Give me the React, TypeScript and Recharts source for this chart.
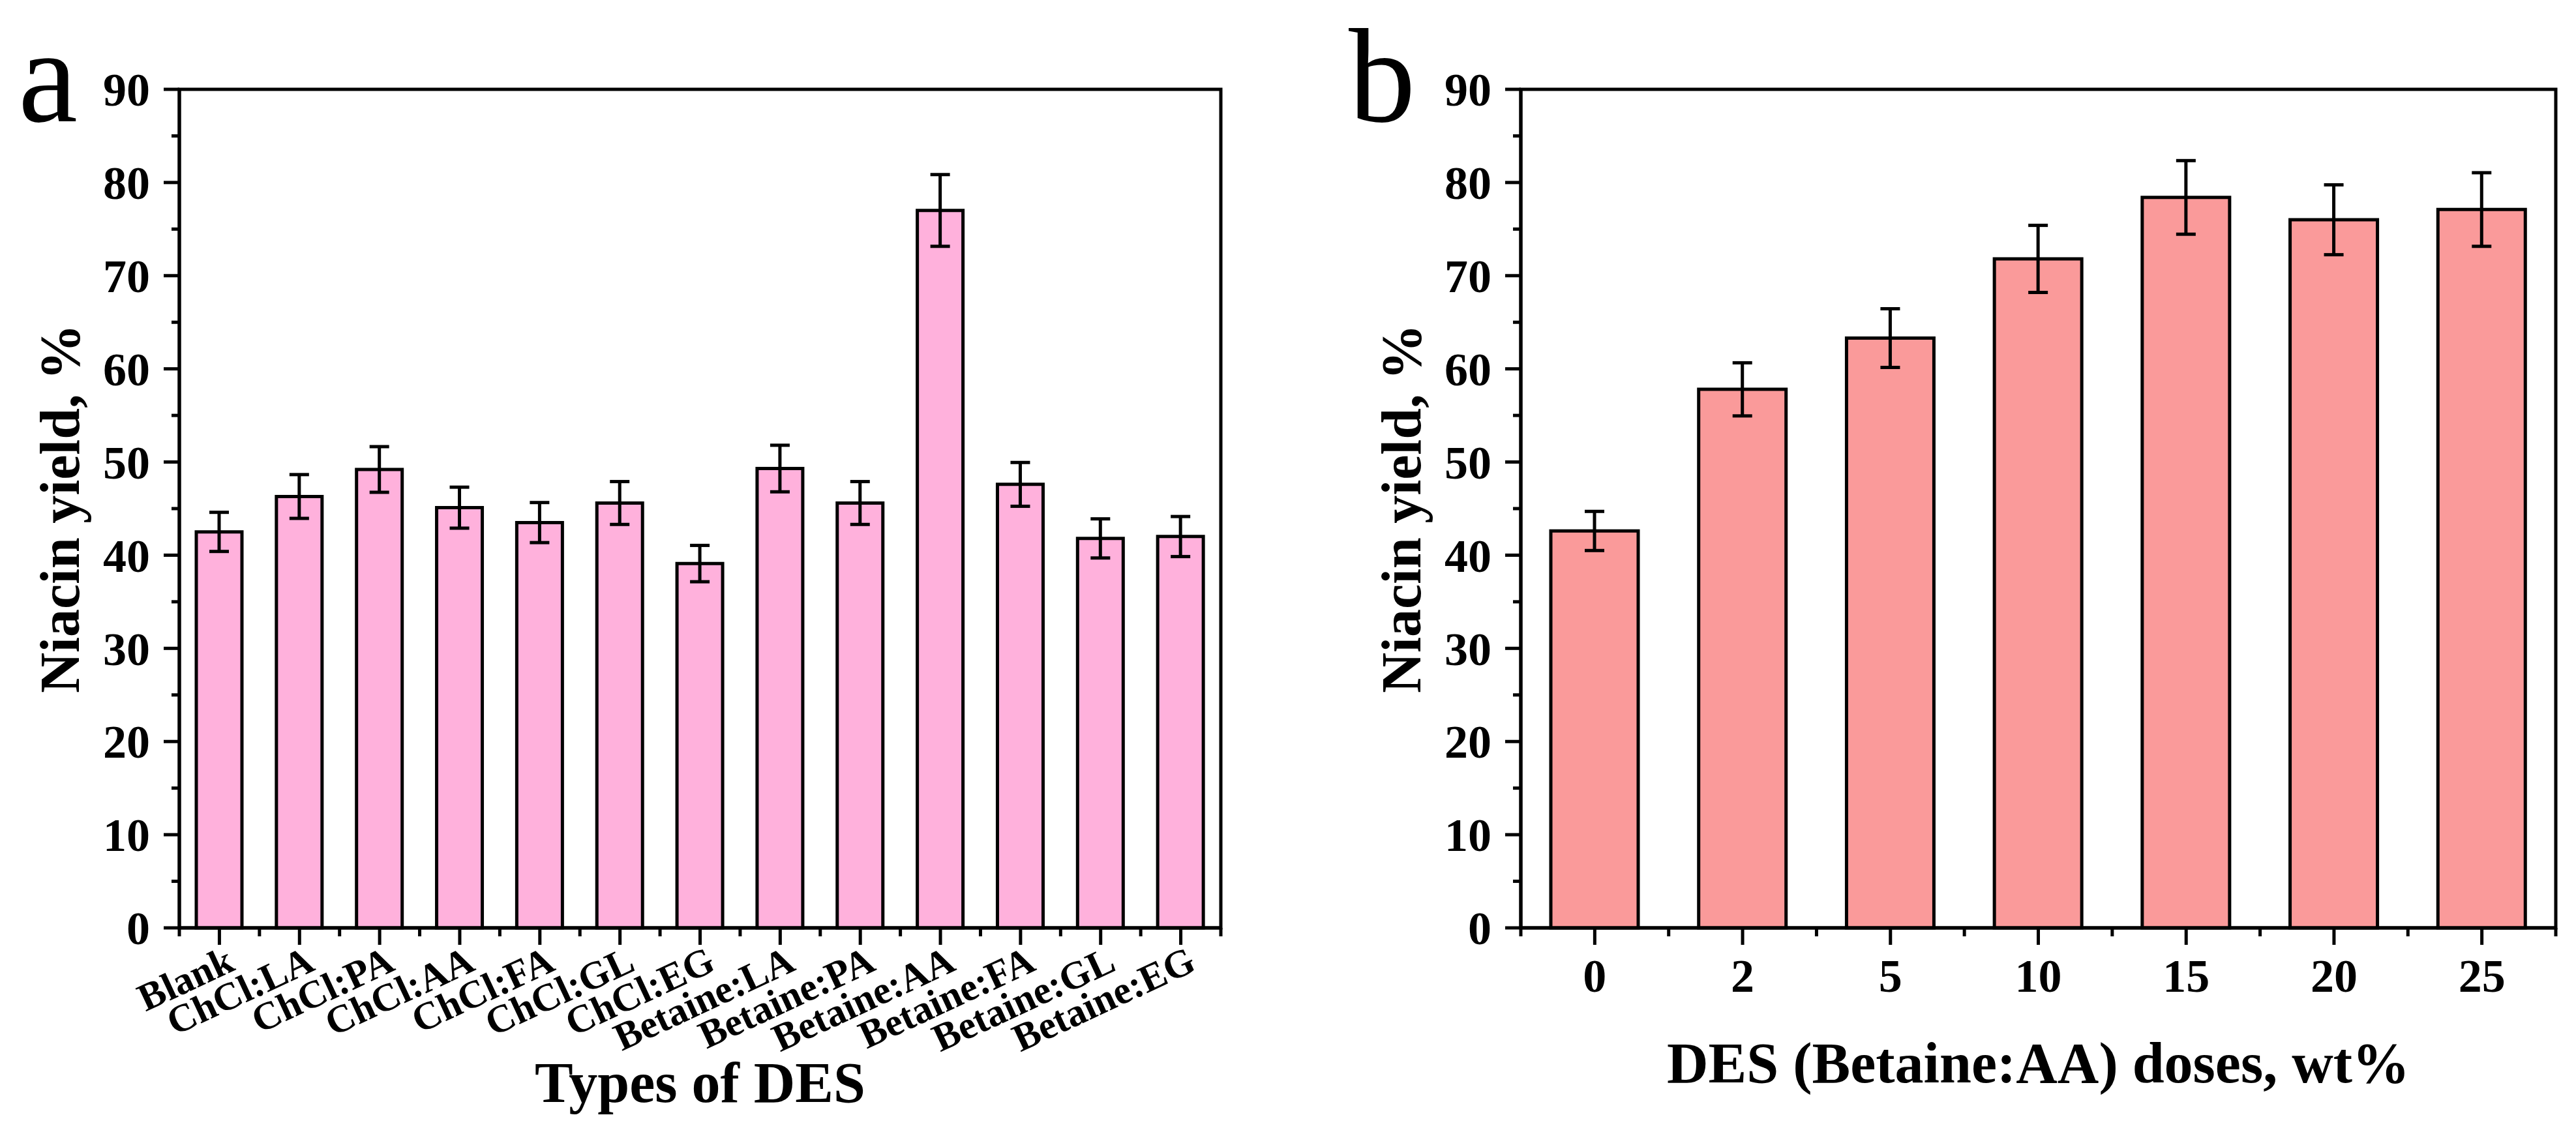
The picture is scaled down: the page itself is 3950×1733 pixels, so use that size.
import { BarChart, Bar, XAxis, YAxis, ErrorBar, ReferenceArea, Label } from "recharts"

// panel a: niacin yield by DES type
const typesA = [
  "Blank",
  "ChCl:LA",
  "ChCl:PA",
  "ChCl:AA",
  "ChCl:FA",
  "ChCl:GL",
  "ChCl:EG",
  "Betaine:LA",
  "Betaine:PA",
  "Betaine:AA",
  "Betaine:FA",
  "Betaine:GL",
  "Betaine:EG",
]
const yieldA = [42.5, 46.3, 49.2, 45.1, 43.5, 45.6, 39.1, 49.3, 45.6, 77.0, 47.6, 41.8, 42.0]
const errA = [2.1, 2.35, 2.45, 2.2, 2.15, 2.3, 1.95, 2.5, 2.3, 3.85, 2.35, 2.1, 2.15]

// panel b: niacin yield by Betaine:AA dose
const dosesB = ["0", "2", "5", "10", "15", "20", "25"]
const yieldB = [42.6, 57.8, 63.3, 71.8, 78.4, 76.0, 77.1]
const errB = [2.1, 2.85, 3.15, 3.6, 3.95, 3.75, 3.95]

const yTicks = [0, 5, 10, 15, 20, 25, 30, 35, 40, 45, 50, 55, 60, 65, 70, 75, 80, 85, 90]

const dataA = typesA.map((name, i) => ({ name, value: yieldA[i], err: errA[i] }))
const dataB = dosesB.map((name, i) => ({ name, value: yieldB[i], err: errB[i] }))

const FONT = "'Liberation Serif', 'Times New Roman', Times, serif"
const LW = 5
const H = 1733
const PLOT_TOP = 137
const AXIS_H = 310

// plot widths, used for the minor ticks between categories
const A_W = 1960
const A_LEFT = 275
const A_PLOT = 1597
const B_W = 1990
const B_LEFT = 372
const B_PLOT = 1587

function YTick(props: any) {
  const { x, y, payload } = props
  const v = payload.value
  const major = v % 10 === 0
  return (
    <g>
      <line x1={x - (major ? 24 : 12)} x2={x} y1={y} y2={y} stroke="#000" strokeWidth={LW} />
      {major && (
        <text x={x - 45} y={y} dy="0.35em" textAnchor="end" fontFamily={FONT} fontWeight="bold" fontSize={72} fill="#000">
          {v}
        </text>
      )}
    </g>
  )
}

function makeXTick(band: number, count: number, rotated: boolean) {
  return (props: any) => {
    const { x, y, payload, index } = props
    const half = band / 2
    const last = index === count - 1
    return (
      <g>
        <line x1={x} x2={x} y1={y} y2={y + 26} stroke="#000" strokeWidth={LW} />
        <line x1={x - half} x2={x - half} y1={y} y2={y + 13} stroke="#000" strokeWidth={LW} />
        {last && <line x1={x + half} x2={x + half} y1={y} y2={y + 13} stroke="#000" strokeWidth={LW} />}
        {rotated ? (
          <text
            x={x + 26}
            y={y + 64}
            transform={`rotate(-25, ${x + 26}, ${y + 64})`}
            textAnchor="end"
            fontFamily={FONT}
            fontWeight="bold"
            fontSize={60}
            fill="#000"
          >
            {payload.value}
          </text>
        ) : (
          <text x={x} y={y + 98} textAnchor="middle" fontFamily={FONT} fontWeight="bold" fontSize={72} fill="#000">
            {payload.value}
          </text>
        )}
      </g>
    )
  }
}

function yTitle(offset: number) {
  return (p: any) => {
    const vb = p.viewBox
    const x = vb.x + vb.width - offset
    const y = vb.y + vb.height / 2
    return (
      <text x={x} y={y} transform={`rotate(-90, ${x}, ${y})`} textAnchor="middle" fontFamily={FONT} fontWeight="bold" fontSize={86} fill="#000">
        Niacin yield, %
      </text>
    )
  }
}

function xTitle(text: string, dy: number) {
  return (p: any) => {
    const vb = p.viewBox
    return (
      <text x={vb.x + vb.width / 2} y={vb.y + dy} textAnchor="middle" fontFamily={FONT} fontWeight="bold" fontSize={88} fill="#000">
        {text}
      </text>
    )
  }
}

function Panel(props: {
  data: any[]
  width: number
  left: number
  plotW: number
  fill: string
  barSize: number
  rotated: boolean
  title: string
  titleDy: number
}) {
  const { data, width, left, plotW, fill, barSize, rotated, title, titleDy } = props
  const band = plotW / data.length
  return (
    <BarChart width={width} height={H} data={data} margin={{ top: PLOT_TOP, right: width - left - plotW, bottom: 0, left: 0 }}>
      <ReferenceArea y1={0} y2={90} fill="none" stroke="#000" strokeWidth={LW} ifOverflow="visible" />
      <XAxis
        dataKey="name"
        height={AXIS_H}
        interval={0}
        tickSize={0}
        tickMargin={0}
        tickLine={false}
        axisLine={{ stroke: "#000", strokeWidth: LW }}
        tick={makeXTick(band, data.length, rotated)}
      >
        <Label content={xTitle(title, titleDy)} />
      </XAxis>
      <YAxis
        width={left}
        domain={[0, 90]}
        ticks={yTicks}
        interval={0}
        tickSize={0}
        tickMargin={0}
        tickLine={false}
        axisLine={{ stroke: "#000", strokeWidth: LW }}
        tick={YTick}
      >
        <Label content={yTitle(154)} />
      </YAxis>
      <Bar dataKey="value" fill={fill} stroke="#000" strokeWidth={LW} barSize={barSize} isAnimationActive={false}>
        <ErrorBar dataKey="err" width={15} stroke="#000" strokeWidth={LW} />
      </Bar>
    </BarChart>
  )
}

export default function App() {
  return (
    <div style={{ position: "absolute", left: 0, top: 0, width: 3950, height: H, background: "#fff" }}>
      <div style={{ position: "absolute", left: 0, top: 0 }}>
        <Panel
          data={dataA}
          width={A_W}
          left={A_LEFT}
          plotW={A_PLOT}
          fill="#FFB1DC"
          barSize={70}
          rotated={true}
          title="Types of DES"
          titleDy={267}
        />
      </div>
      <div style={{ position: "absolute", left: A_W, top: 0 }}>
        <Panel
          data={dataB}
          width={B_W}
          left={B_LEFT}
          plotW={B_PLOT}
          fill="#FA9A9A"
          barSize={134}
          rotated={false}
          title="DES (Betaine:AA) doses, wt%"
          titleDy={237}
        />
      </div>
      <svg width={3950} height={H} style={{ position: "absolute", left: 0, top: 0, pointerEvents: "none" }}>
        <text x={28} y={186} fontFamily={FONT} fontSize={205} fill="#000">
          a
        </text>
        <text x={2068} y={186} fontFamily={FONT} fontSize={205} fill="#000">
          b
        </text>
      </svg>
    </div>
  )
}
